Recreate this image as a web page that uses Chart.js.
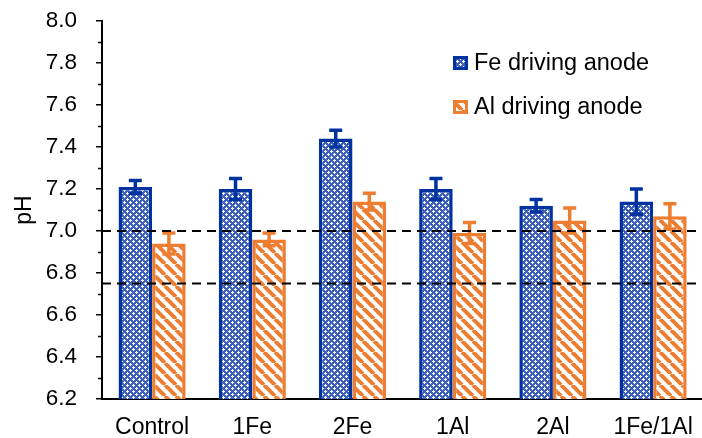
<!DOCTYPE html>
<html>
<head>
<meta charset="utf-8">
<script src="https://cdn.jsdelivr.net/npm/chart.js@4"></script>
<style>
  html, body { margin: 0; padding: 0; background: #fff; overflow: hidden; }
  #wrap { width: 708px; height: 438px; }
</style>
</head>
<body>
<div id="wrap"><canvas id="chart"></canvas></div>
<script>
const categories = ['Control', '1Fe', '2Fe', '1Al', '2Al', '1Fe/1Al'];
const feValues = [7.21, 7.20, 7.44, 7.20, 7.12, 7.14];
const feErrors = [0.03, 0.05, 0.04, 0.05, 0.03, 0.06];
const alValues = [6.94, 6.96, 7.14, 6.99, 7.05, 7.07];
const alErrors = [0.05, 0.03, 0.04, 0.05, 0.06, 0.06];
const refLines = [7.0, 6.75];
const yMin = 6.2;
const yMax = 8.0;

const blue = '#0033A0';
const orange = '#ED7D31';

function makeCrossPattern() {
  const c = document.createElement('canvas');
  c.width = 6; c.height = 6;
  const g = c.getContext('2d');
  g.fillStyle = '#3d5fbe';
  g.fillRect(0, 0, 6, 6);
  g.fillStyle = '#ffffff';
  [[1, 1], [4, 4]].forEach(([x, y]) => {
    g.fillRect(x - 1, y, 3, 1);
    g.fillRect(x, y - 1, 1, 3);
  });
  return g.createPattern(c, 'repeat');
}

function makeStripePattern() {
  const s = 11;
  const c = document.createElement('canvas');
  c.width = s; c.height = s;
  const g = c.getContext('2d');
  g.fillStyle = '#ffffff';
  g.fillRect(0, 0, s, s);
  g.strokeStyle = orange;
  g.lineWidth = 4;
  g.beginPath();
  [-s, 0, s].forEach(k => {
    g.moveTo(k, 0);
    g.lineTo(k + s, s);
  });
  g.stroke();
  return g.createPattern(c, 'repeat');
}

const fePattern = makeCrossPattern();
const alPattern = makeStripePattern();

Chart.defaults.font.family = '"Liberation Sans", Arial, sans-serif';
Chart.defaults.font.size = 23;
Chart.defaults.color = '#000';

const overlay = {
  id: 'overlay',
  afterDatasetsDraw(chart) {
    const ctx = chart.ctx;
    const y = chart.scales.y;
    const area = chart.chartArea;
    ctx.save();

    // error bars
    [feErrors, alErrors].forEach((errs, di) => {
      const ds = chart.data.datasets[di];
      const meta = chart.getDatasetMeta(di);
      ctx.strokeStyle = ds.borderColor;
      ctx.lineWidth = 3.5;
      meta.data.forEach((bar, i) => {
        const top = y.getPixelForValue(ds.data[i] + errs[i]);
        const bot = y.getPixelForValue(ds.data[i] - errs[i]);
        ctx.beginPath();
        ctx.moveTo(bar.x, top); ctx.lineTo(bar.x, bot);
        ctx.moveTo(bar.x - 6.5, top); ctx.lineTo(bar.x + 6.5, top);
        ctx.moveTo(bar.x - 6.5, bot); ctx.lineTo(bar.x + 6.5, bot);
        ctx.stroke();
      });
    });

    // dashed reference lines
    ctx.setLineDash([9, 6]);
    ctx.strokeStyle = '#000';
    ctx.lineWidth = 2;
    refLines.forEach(v => {
      const py = y.getPixelForValue(v);
      ctx.beginPath();
      ctx.moveTo(area.left, py);
      ctx.lineTo(area.right, py);
      ctx.stroke();
    });
    ctx.setLineDash([]);

    // minor ticks
    ctx.strokeStyle = '#000';
    ctx.lineWidth = 1.5;
    for (let v = yMin + 0.1; v < yMax; v += 0.2) {
      const py = Math.round(y.getPixelForValue(v)) + 0.5;
      ctx.beginPath();
      ctx.moveTo(area.left - 4, py);
      ctx.lineTo(area.left, py);
      ctx.stroke();
    }

    // legend
    ctx.font = '23.5px "Liberation Sans", Arial, sans-serif';
    ctx.textBaseline = 'alphabetic';
    ctx.textAlign = 'left';
    chart.data.datasets.forEach((ds, i) => {
      const by = 56 + i * 44;
      ctx.fillStyle = ds.backgroundColor;
      ctx.fillRect(453, by, 15, 14);
      ctx.strokeStyle = ds.borderColor;
      ctx.lineWidth = 3;
      ctx.strokeRect(454.5, by + 1.5, 12, 11);
      ctx.fillStyle = '#000';
      ctx.fillText(ds.label, 474, by + 14);
    });
    ctx.restore();
  }
};

new Chart(document.getElementById('chart'), {
  type: 'bar',
  data: {
    labels: categories,
    datasets: [
      {
        label: 'Fe driving anode',
        data: feValues,
        backgroundColor: fePattern,
        borderColor: blue,
        borderWidth: 3.5,
        borderSkipped: false
      },
      {
        label: 'Al driving anode',
        data: alValues,
        backgroundColor: alPattern,
        borderColor: orange,
        borderWidth: 3.5,
        borderSkipped: false
      }
    ]
  },
  options: {
    responsive: true,
    maintainAspectRatio: false,
    animation: false,
    layout: { padding: { top: 21, right: 3, bottom: 0, left: 0 } },
    plugins: {
      legend: { display: false },
      tooltip: { enabled: false }
    },
    datasets: {
      bar: { categoryPercentage: 0.67, barPercentage: 1.0 }
    },
    scales: {
      x: {
        grid: { display: false, drawTicks: false },
        border: { color: '#000', width: 2 },
        ticks: { padding: 15, maxRotation: 0, autoSkip: false },
        afterFit(s) { s.height = 39; }
      },
      y: {
        min: yMin,
        max: yMax,
        grid: { drawOnChartArea: false, drawTicks: true, tickLength: 6, color: '#000', lineWidth: 1.5 },
        border: { color: '#000', width: 2 },
        ticks: {
          stepSize: 0.2,
          padding: 19,
          font: { size: 22.5 },
          callback: v => Number(v).toFixed(1)
        },
        title: {
          display: true,
          text: 'pH',
          font: { size: 23 },
          padding: { top: 11, bottom: 0 }
        },
        afterFit(s) {
          s.width = 102;
          s.paddingTop = 0;
          s.paddingBottom = 0;
        }
      }
    }
  },
  plugins: [overlay]
});
</script>
</body>
</html>
